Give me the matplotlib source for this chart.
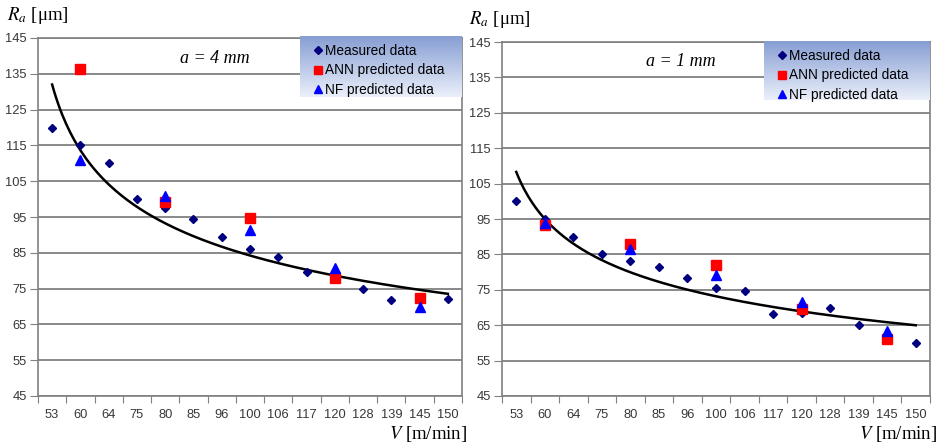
import numpy as np
import matplotlib
matplotlib.use("Agg")
import matplotlib.pyplot as plt

plt.rcParams['font.family'] = ['Liberation Sans', 'DejaVu Sans']
plt.rcParams['mathtext.fontset'] = 'stix'

speeds = ['53', '60', '64', '75', '80', '85', '96', '100', '106', '117', '120', '128', '139', '145', '150']
test_speeds = ['60', '80', '100', '120', '145']

# a = 4 mm
meas_4 = [120, 115, 110, 100, 97.4, 94.4, 89.5, 86.1, 83.7, 79.5, 78, 75, 71.7, 72.5, 72]
ann_4 = [136.3, 99.1, 94.6, 77.9, 72.5]
nf_4 = [110.8, 100.9, 91.4, 80.8, 70]
trend_4 = (132.0, -0.216)   # power trendline y = c * n^p over category number

# a = 1 mm
meas_1 = [100, 95, 90, 85, 83.1, 81.3, 78.3, 75.4, 74.6, 68.2, 68.5, 70, 65, 61.5, 60]
ann_1 = [93.2, 87.8, 82.1, 69.7, 61.1]
nf_1 = [94, 86.5, 79.3, 71.5, 63.3]
trend_1 = (108.3, -0.1886)

grid_col = '#808080'


def panel(ax, meas, ann, nf, trend, label, label_y, leg_box):
    n = len(speeds)
    xi = np.arange(n)
    ti = [speeds.index(s) for s in test_speeds]

    ax.set_xlim(-0.5, n - 0.5)
    ax.set_ylim(45, 145)
    ax.set_yticks(np.arange(45, 146, 10))
    ax.grid(axis='y', color=grid_col, linewidth=1.3)
    ax.set_axisbelow(True)

    # category axis: ticks between categories, labels at centres
    ax.set_xticks(np.arange(-0.5, n, 1.0))
    ax.set_xticklabels([])
    ax.set_xticks(xi, minor=True)
    ax.set_xticklabels(speeds, minor=True, fontsize=9.3, color='#383838')
    ax.tick_params(axis='x', which='major', length=5, color=grid_col, direction='out')
    ax.tick_params(axis='x', which='minor', length=0, pad=9)
    ax.tick_params(axis='y', length=6, color=grid_col, labelsize=9.3, labelcolor='#383838', pad=2)
    for s in ax.spines.values():
        s.set_color(grid_col)
        s.set_linewidth(1.2)

    c, p = trend
    xs = np.linspace(1, n, 200)
    ax.plot(xs - 1, c * xs ** p, color='black', linewidth=1.8, zorder=3)

    ax.plot(xi, meas, 'D', color='#00007f', markersize=4.5, linestyle='none',
            label='Measured data', zorder=4)
    ax.plot(ti, ann, 's', color='#ff0000', markersize=7, linestyle='none',
            label='ANN predicted data', zorder=5)
    ax.plot(ti, nf, '^', color='#0000ff', markersize=7, linestyle='none',
            label='NF predicted data', zorder=6)

    # gradient legend background
    x0, x1, y0, y1 = leg_box
    grad = np.linspace(0, 1, 64).reshape(-1, 1)
    top = np.array([0.53, 0.62, 0.83])
    bot = np.array([0.92, 0.94, 0.98])
    img = top + (bot - top) * grad[:, :, None]
    ax.imshow(img, extent=(x0, x1, y0, y1), transform=ax.transAxes, aspect='auto',
              origin='upper', zorder=7, clip_on=False)
    leg = ax.legend(loc='upper left', bbox_to_anchor=(x0 + 0.02, y1 - 0.005), frameon=False,
                    fontsize=9.8, handlelength=0.6, handletextpad=0.2, labelspacing=0.38,
                    borderaxespad=0.1, borderpad=0.3, markerscale=0.85)
    leg.set_zorder(8)

    ax.text(0.418, label_y, label, transform=ax.transAxes, ha='center', va='center',
            fontsize=13, style='italic', family='Liberation Serif')


fig = plt.figure(figsize=(9.38, 4.47), dpi=100)
axl = fig.add_axes([38 / 938, 1 - 396 / 447, 424 / 938, 358 / 447])
axr = fig.add_axes([502 / 938, 1 - 396 / 447, 428 / 938, 354 / 447])

panel(axl, meas_4, ann_4, nf_4, trend_4, 'a = 4 mm', 0.943, (0.618, 1.0, 0.835, 1.003))
panel(axr, meas_1, ann_1, nf_1, trend_1, 'a = 1 mm', 0.945, (0.612, 0.998, 0.836, 1.0))

fig.text(7 / 938, 1 - 16 / 447, r'$R_a$ [μm]', fontsize=13.5, family='Liberation Serif',
         ha='left', va='center')
fig.text(469 / 938, 1 - 19 / 447, r'$R_a$ [μm]', fontsize=13.5, family='Liberation Serif',
         ha='left', va='center')
fig.text(467 / 938, 1 - 434 / 447, r'$V$ [m/min]', fontsize=13.5, family='Liberation Serif',
         ha='right', va='center')
fig.text(937 / 938, 1 - 434 / 447, r'$V$ [m/min]', fontsize=13.5, family='Liberation Serif',
         ha='right', va='center')

fig.savefig('out.png', dpi=100)
